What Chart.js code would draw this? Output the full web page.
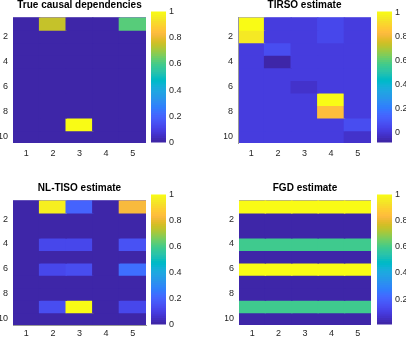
<!DOCTYPE html>
<html><head><meta charset="utf-8">
<script src="https://cdn.jsdelivr.net/npm/chart.js@4/dist/chart.umd.min.js"></script>
<style>
html,body{margin:0;padding:0;background:#fff;}
#wrap{position:relative;width:406px;height:338px;overflow:hidden;background:#fff;}
#wrap canvas{position:absolute;}
.ttl{position:absolute;font:bold 10px 'Liberation Sans',Arial,sans-serif;color:#000;white-space:nowrap;transform:translateX(-50%);line-height:10px;}
</style></head><body><div id="wrap"></div>
<script>
// ---- data ----
const colLabels = ['1','2','3','4','5'];
const rowTicks = [2,4,6,8,10];
const cbTicks = [0,0.2,0.4,0.6,0.8,1];
const titles = ['True causal dependencies','TIRSO estimate','NL-TISO estimate','FGD estimate'];

const trueVals = [
  [0,0.74,0,0,0.62],
  [0,0,0,0,0],
  [0,0,0,0,0],
  [0,0,0,0,0],
  [0,0,0,0,0],
  [0,0,0,0,0],
  [0,0,0,0,0],
  [0,0,0,0,0],
  [0,0,1,0,0],
  [0,0,0,0,0]
];
const tirsoVals = [
  [1.011,0.01,0.01,0.04,0.01],
  [0.95,0.01,0.01,0.04,0.01],
  [0.01,0.06,0.01,0.01,0.01],
  [0.01,-0.087,0.01,0.01,0.01],
  [0.01,0.01,0.01,0.01,0.01],
  [0.01,0.01,-0.03,0.01,0.01],
  [0.01,0.01,0.01,1.0,0.01],
  [0.01,0.01,0.01,0.83,0.01],
  [0.01,0.01,0.01,0.01,0.06],
  [0.01,0.01,0.01,0.01,-0.03]
];
const nltisoVals = [
  [0,0.96,0.2,0,0.82],
  [0,0,0,0,0],
  [0,0,0,0,0],
  [0,0.12,0.12,0,0.15],
  [0,0,0,0,0],
  [0,0.12,0.14,0,0.23],
  [0,0,0,0,0],
  [0,0,0,0,0],
  [0,0.13,1,0,0.12],
  [0,0,0,0,0]
];
const fgdVals = [
  [1,1,1,1,1],
  [0.006,0.006,0.006,0.006,0.006],
  [0.006,0.006,0.006,0.006,0.006],
  [0.59,0.59,0.59,0.59,0.59],
  [0.006,0.006,0.006,0.006,0.006],
  [1,1,1,1,1],
  [0.006,0.006,0.006,0.006,0.006],
  [0.006,0.006,0.006,0.006,0.006],
  [0.59,0.59,0.59,0.59,0.59],
  [0.006,0.006,0.006,0.006,0.006]
];

// ---- colormap (parula, 64 levels) ----
const parula = [
[0.2422,0.1504,0.6603],[0.2504,0.1650,0.7076],[0.2578,0.1818,0.7511],[0.2647,0.1978,0.7952],
[0.2706,0.2147,0.8364],[0.2751,0.2342,0.8710],[0.2783,0.2559,0.8991],[0.2803,0.2782,0.9221],
[0.2813,0.3006,0.9414],[0.2810,0.3228,0.9579],[0.2795,0.3447,0.9717],[0.2760,0.3667,0.9829],
[0.2699,0.3892,0.9906],[0.2602,0.4123,0.9952],[0.2440,0.4358,0.9988],[0.2206,0.4603,0.9973],
[0.1963,0.4847,0.9892],[0.1834,0.5074,0.9798],[0.1786,0.5289,0.9682],[0.1764,0.5499,0.9520],
[0.1687,0.5703,0.9359],[0.1540,0.5902,0.9218],[0.1460,0.6091,0.9079],[0.1380,0.6276,0.8973],
[0.1248,0.6459,0.8883],[0.1113,0.6635,0.8763],[0.0952,0.6798,0.8598],[0.0689,0.6948,0.8394],
[0.0297,0.7082,0.8163],[0.0036,0.7203,0.7917],[0.0067,0.7312,0.7660],[0.0433,0.7411,0.7394],
[0.0964,0.7500,0.7120],[0.1408,0.7584,0.6842],[0.1717,0.7670,0.6554],[0.1938,0.7758,0.6251],
[0.2161,0.7843,0.5923],[0.2470,0.7918,0.5567],[0.2906,0.7973,0.5188],[0.3406,0.8008,0.4789],
[0.3909,0.8029,0.4354],[0.4456,0.8024,0.3909],[0.5044,0.7993,0.3480],[0.5616,0.7942,0.3045],
[0.6174,0.7876,0.2612],[0.6720,0.7793,0.2227],[0.7242,0.7698,0.1910],[0.7738,0.7598,0.1646],
[0.8203,0.7498,0.1535],[0.8634,0.7406,0.1596],[0.9035,0.7330,0.1774],[0.9393,0.7288,0.2100],
[0.9728,0.7298,0.2394],[0.9956,0.7434,0.2371],[0.9970,0.7659,0.2199],[0.9952,0.7893,0.2028],
[0.9892,0.8136,0.1885],[0.9786,0.8386,0.1766],[0.9676,0.8639,0.1643],[0.9610,0.8890,0.1537],
[0.9597,0.9135,0.1423],[0.9628,0.9373,0.1265],[0.9691,0.9606,0.1064],[0.9769,0.9839,0.0805]
];
const rgb = c => `rgb(${Math.round(c[0]*255)},${Math.round(c[1]*255)},${Math.round(c[2]*255)})`;
function cmap(v,min,max){
  let i = Math.floor((v-min)/(max-min)*64);
  i = Math.max(0,Math.min(63,i));
  return rgb(parula[i]);
}

Chart.defaults.font.family = "'Liberation Sans', Arial, sans-serif";
Chart.defaults.animation = false;
const wrap = document.getElementById('wrap');
const TICKFONT = {size:9};
const TICKCOL = '#262626';
const fmt = v => String(+v.toFixed(2));

function addCanvas(L,T,W,H){
  const cv = document.createElement('canvas');
  cv.width=W; cv.height=H;
  cv.style.left=L+'px'; cv.style.top=T+'px';
  cv.style.width=W+'px'; cv.style.height=H+'px';
  wrap.appendChild(cv);
  return cv;
}

// plot-area background in the panel's most common cell colour (hides hairline seams)
const areaFill = {
  id:'areaFill',
  beforeDatasetsDraw(ch, args, opts){
    if(!opts.color) return;
    const a=ch.chartArea, c=ch.ctx;
    c.save(); c.fillStyle=opts.color; c.fillRect(a.left,a.top,a.width,a.height); c.restore();
  }
};

function heat(vals, box, borders){
  const yW=14, pT=4, xH=16, pR=3;
  const cv = addCanvas(box.L-yW, box.T-pT, yW+box.W+pR, pT+box.H+xH);
  const flat = vals.flat();
  const min = Math.min(...flat), max = Math.max(...flat);
  const counts = {};
  flat.forEach(v=>{const k=cmap(v,min,max); counts[k]=(counts[k]||0)+1;});
  const mode = Object.keys(counts).sort((a,b)=>counts[b]-counts[a])[0];
  const datasets = vals.map((row,r)=>({
    data: row.map(()=>[r+0.5, r+1.5]),
    backgroundColor: row.map(v=>cmap(v,min,max)),
    borderWidth:0, inflateAmount:0.7, grouped:false,
    barPercentage:1, categoryPercentage:1
  }));
  new Chart(cv,{
    type:'bar',
    data:{labels:colLabels, datasets},
    plugins:[areaFill],
    options:{
      responsive:false, devicePixelRatio:1,
      layout:{padding:{top:pT,right:pR,left:0,bottom:0}},
      plugins:{legend:{display:false},tooltip:{enabled:false},title:{display:false},areaFill:{color:mode}},
      scales:{
        x:{type:'category', offset:true,
           grid:{display:false, drawTicks:false},
           border:{display:!!borders.bottom, color:'#9a9a9a', width:1, z:1},
           ticks:{padding:box.xPad, font:TICKFONT, color:TICKCOL, maxRotation:0, autoSkip:false},
           afterFit:s=>{s.height=xH;}},
        y:{type:'linear', reverse:true, min:0.5, max:10.5,
           grid:{display:false, drawTicks:false},
           border:{display:!!borders.left, color:'#9a9a9a', width:1, z:1},
           afterBuildTicks:ax=>{ax.ticks=rowTicks.map(v=>({value:v}));},
           ticks:{padding:5, font:TICKFONT, color:TICKCOL, autoSkip:false},
           afterFit:s=>{s.width=yW;}}
      }
    }
  });
  return {min,max};
}

function cbar(box, min, max){
  const rW=30, pT=8, pB=8;
  const cv = addCanvas(box.L, box.T-pT, box.W+rW, box.H+pT+pB);
  const n = parula.length, d=(max-min)/n;
  const datasets = parula.map((c,i)=>({
    data:[[min+i*d, min+(i+1)*d]],
    backgroundColor: rgb(c),
    borderWidth:0, inflateAmount:0.6, grouped:false, barPercentage:1, categoryPercentage:1
  }));
  new Chart(cv,{
    type:'bar',
    data:{labels:[''], datasets},
    options:{
      responsive:false, devicePixelRatio:1,
      layout:{padding:{top:pT,bottom:pB,left:0,right:0}},
      plugins:{legend:{display:false},tooltip:{enabled:false}},
      scales:{
        x:{display:false, offset:true},
        y:{position:'right', min, max,
           grid:{display:false, drawTicks:false},
           border:{display:false},
           afterBuildTicks:ax=>{ax.ticks=cbTicks.filter(v=>v>=min-1e-9&&v<=max+1e-9).map(v=>({value:v}));},
           ticks:{padding:3, font:TICKFONT, color:TICKCOL, autoSkip:false, callback:fmt},
           afterFit:s=>{s.width=rW;}}
      }
    }
  });
}

function title(text,cx,top){
  const d=document.createElement('div');
  d.className='ttl'; d.textContent=text;
  d.style.left=cx+'px'; d.style.top=top+'px';
  wrap.appendChild(d);
}

const boxes = [
  {L:13, T:11, W:133, H:132, xPad:5},
  {L:238, T:11, W:133, H:132, xPad:5},
  {L:13, T:194, W:133, H:131, xPad:3},
  {L:239, T:194, W:132, H:131, xPad:3}
];
const cbBoxes = [
  {L:151, T:11, W:15, H:132},
  {L:377, T:11, W:15, H:132},
  {L:151, T:194, W:15, H:131},
  {L:377, T:194, W:15, H:131}
];
const allVals = [trueVals, tirsoVals, nltisoVals, fgdVals];
const borderSet = [{}, {left:true}, {bottom:true}, {}];
const titleTops = [-0.5, -0.2, 182.5, 182.5];
allVals.forEach((v,i)=>{
  const r = heat(v, boxes[i], borderSet[i]);
  cbar(cbBoxes[i], r.min, r.max);
  title(titles[i], boxes[i].L+boxes[i].W/2, titleTops[i]);
});
</script></body></html>
